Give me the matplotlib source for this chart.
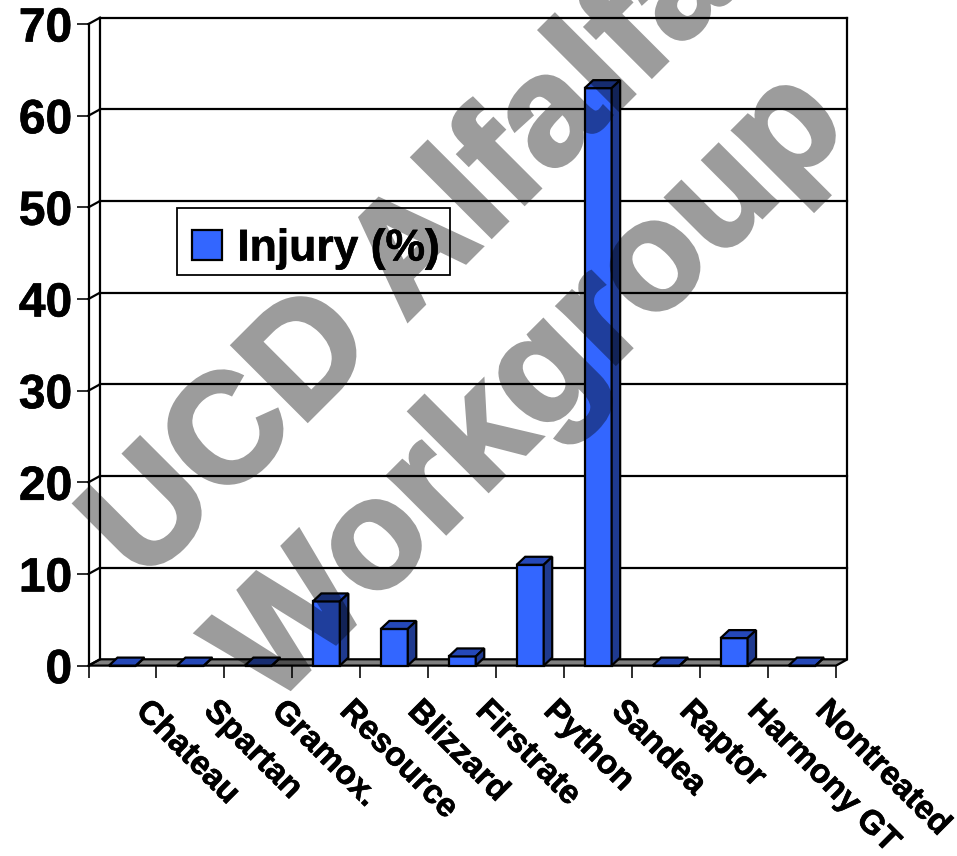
import numpy as np
import matplotlib
matplotlib.use("Agg")
import matplotlib.pyplot as plt
import matplotlib.patheffects as pe
from matplotlib.patches import Patch, Rectangle
from matplotlib.transforms import ScaledTranslation

plt.rcParams['font.family'] = ['Liberation Sans', 'DejaVu Sans']
plt.rcParams['font.weight'] = 'bold'

# data
varieties = ["Chateau", "Spartan", "Gramox.", "Resource", "Blizzard", "Firstrate",
             "Python", "Sandea", "Raptor", "Harmony GT", "Nontreated"]
injury = [0, 0, 0, 7, 4, 1, 11, 63, 0, 3, 0]
y_ticks = [0, 10, 20, 30, 40, 50, 60, 70]

W, H = 957, 856
# front plane of the fake 3d box, in pixels
left, right, bottom, top = 88.5, 836, 665.6, 24

blue = "#3366FF"
top_blue = "#2548B8"
side_blue = "#1F3A8F"
grey = "#808080"
lw = 1.6
heavy = [pe.withStroke(linewidth=0.45, foreground="black")]

fig = plt.figure(figsize=(W / 100, H / 100), dpi=100)
ax = fig.add_axes([left / W, 1 - bottom / H, (right - left) / W, (bottom - top) / H])
ax.set_xlim(0, len(varieties))
ax.set_ylim(0, 70)
for s in ax.spines.values():
    s.set_visible(False)

# pixels -> data units
px_x = len(varieties) / (right - left)
px_y = 70 / (bottom - top)
wall_dx, wall_dy = 11.5 * px_x, 6.3 * px_y    # depth of the box
bar_dx, bar_dy = 8.5 * px_x, 8.0 * px_y       # depth of a bar
bar_w = 27 * px_x

# floor
ax.fill([0, len(varieties), len(varieties) + wall_dx, wall_dx], [0, 0, wall_dy, wall_dy],
        fc=grey, ec="black", lw=lw, clip_on=False, zorder=1)

# walls and gridlines
for v in y_ticks[1:]:
    ax.plot([wall_dx, len(varieties) + wall_dx], [v + wall_dy, v + wall_dy],
            color="black", lw=lw, clip_on=False, zorder=1)
for v in y_ticks:
    ax.plot([0, wall_dx], [v, v + wall_dy], color="black", lw=lw, clip_on=False, zorder=1)
ax.plot([0, 0], [0, 70], color="black", lw=lw, clip_on=False, zorder=1)
ax.plot([wall_dx, wall_dx], [wall_dy, 70 + wall_dy], color="black", lw=lw, clip_on=False, zorder=1)
ax.plot([len(varieties) + wall_dx] * 2, [wall_dy, 70 + wall_dy], color="black", lw=lw,
        clip_on=False, zorder=1)

# bars: front, top, side
xs = np.arange(len(varieties)) + 0.5
for x, v in zip(xs, injury):
    x0, x1 = x - bar_w / 2, x + bar_w / 2
    ax.bar(x, v, width=bar_w, color=blue, edgecolor="black", linewidth=lw, zorder=3, clip_on=False)
    ax.fill([x0, x1, x1 + bar_dx, x0 + bar_dx], [v, v, v + bar_dy, v + bar_dy],
            fc=top_blue, ec="black", lw=lw, clip_on=False, zorder=3)
    ax.fill([x1, x1 + bar_dx, x1 + bar_dx, x1], [0, bar_dy, v + bar_dy, v],
            fc=side_blue, ec="black", lw=lw, clip_on=False, zorder=3)

# ticks
ax.set_yticks(y_ticks)
ax.set_xticks(np.arange(len(varieties) + 1))
ax.set_xticklabels([])
ax.set_xticks(xs, labels=varieties, minor=True)
ax.tick_params(axis="both", which="major", length=8.3, width=lw * 0.72, pad=3.5)
ax.tick_params(axis="x", which="minor", length=0)
ax.tick_params(axis="y", labelsize=34.5)
for lab in ax.get_yticklabels():
    lab.set_fontweight("bold")
    lab.set_path_effects(heavy)
shift = ScaledTranslation(21 / 72, -18 / 72, fig.dpi_scale_trans)
for lab in ax.get_xticklabels(minor=True):
    lab.set_rotation(-45)
    lab.set_rotation_mode("anchor")
    lab.set_ha("left")
    lab.set_va("top")
    lab.set_fontsize(24)
    lab.set_fontweight("bold")
    lab.set_path_effects(heavy)
    lab.set_transform(lab.get_transform() + shift)

# legend: frame drawn apart because its contents sit low in the box
ax.add_patch(Rectangle((177 / W, 1 - 275 / H), 273 / W, 67 / H, transform=fig.transFigure,
                       fc="white", ec="black", lw=lw * 0.8, zorder=4, clip_on=False))
leg = ax.legend(handles=[Patch(fc=blue, ec="black", lw=lw, label="Injury (%)")],
                loc="upper left", bbox_to_anchor=(192 / W, 1 - 228.5 / H),
                bbox_transform=fig.transFigure, fontsize=32, frameon=False,
                borderaxespad=0, borderpad=0,
                handlelength=0.68, handleheight=0.68, handletextpad=0.34)
leg.set_zorder(5)
leg.get_texts()[0].set_path_effects(heavy)


def fade(img, dpi):
    # text and its stroke are drawn solid, then faded once so the stroke does not show double
    out = img.copy()
    out[..., 3] *= 0.39
    return out, 0, 0


# watermark: black at low alpha darkens everything underneath the way the original does
for txt, px, py in [("UCD Alfalfa", 143, 585), ("Workgroup", 271, 708)]:
    t = fig.text(px / W, 1 - py / H, txt, rotation=45, rotation_mode="anchor", ha="left",
                 va="baseline", fontsize=111, fontweight="bold", color="black", zorder=10,
                 path_effects=[pe.withStroke(linewidth=3, foreground="black", joinstyle="miter")])
    t.set_agg_filter(fade)

fig.savefig("out.png", dpi=100)
